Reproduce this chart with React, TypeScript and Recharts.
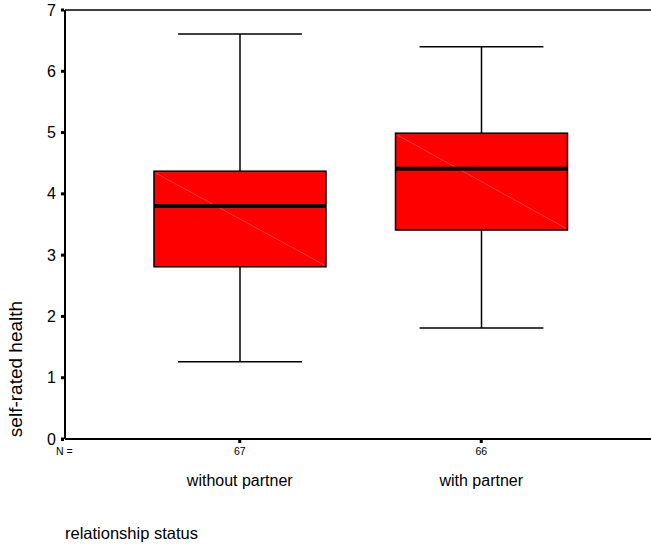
import React from 'react';
import { ComposedChart, Bar, XAxis, YAxis, ReferenceLine } from 'recharts';

const categories = ['without partner', 'with partner'];
const counts = [67, 66];
const mins = [1.26, 1.81];
const q1s = [2.81, 3.41];
const medians = [3.8, 4.41];
const q3s = [4.37, 4.99];
const maxs = [6.61, 6.4];
const yTicks = [0, 1, 2, 3, 4, 5, 6, 7];

const data = categories.map((c, i) => ({
  name: c,
  n: counts[i],
  min: mins[i],
  q1: q1s[i],
  median: medians[i],
  q3: q3s[i],
  max: maxs[i],
  range: [mins[i], maxs[i]],
}));

const FONT = "'Liberation Sans', Arial, sans-serif";

const BoxShape = (props: any) => {
  const { x, y, width, height, payload } = props;
  const p = payload;
  const span = p.max - p.min;
  const py = (v: number) => y + ((p.max - v) / span) * height;
  const cx = x + width / 2;
  const capHalf = width * 0.36;
  const yq3 = py(p.q3);
  const yq1 = py(p.q1);
  const ymed = py(p.median);
  const ymax = py(p.max);
  const ymin = py(p.min);
  return (
    <g>
      <line x1={cx} x2={cx} y1={ymax} y2={yq3} stroke="#000" strokeWidth={1.5} />
      <line x1={cx} x2={cx} y1={yq1} y2={ymin} stroke="#000" strokeWidth={1.5} />
      <line x1={cx - capHalf} x2={cx + capHalf} y1={ymax} y2={ymax} stroke="#000" strokeWidth={1.5} />
      <line x1={cx - capHalf} x2={cx + capHalf} y1={ymin} y2={ymin} stroke="#000" strokeWidth={1.5} />
      <rect x={x} y={yq3} width={width} height={yq1 - yq3} fill="#ff0000" stroke="#000" strokeWidth={1.5} />
      <line x1={x + 2} y1={yq3 + 2} x2={x + width - 2} y2={yq1 - 2} stroke="#ff6a6a" strokeWidth={0.6} />
      <line x1={x} x2={x + width} y1={ymed} y2={ymed} stroke="#000" strokeWidth={4} />
    </g>
  );
};

const YTick = (props: any) => {
  const { x, y, payload } = props;
  return (
    <g>
      <rect x={x + 4} y={y - 1.5} width={3} height={3} fill="#000" />
      <text x={x - 1} y={y} dy={5.5} textAnchor="end" fontSize={16} fontFamily={FONT} fill="#000">
        {payload.value}
      </text>
    </g>
  );
};

const XTick = (props: any) => {
  const { x, y, payload, index } = props;
  const n = counts[index];
  return (
    <g>
      <rect x={x - 1.5} y={y - 7} width={3} height={3} fill="#000" />
      <text x={x} y={y + 8} textAnchor="middle" fontSize={10.5} fontFamily={FONT} fill="#000">
        {n}
      </text>
      <text x={x} y={y + 39} textAnchor="middle" fontSize={16} fontFamily={FONT} fill="#000">
        {payload.value}
      </text>
    </g>
  );
};

const XLabel = (props: any) => {
  const vb = props.viewBox || {};
  const x = vb.x ?? 65;
  const y = vb.y ?? 439;
  return (
    <g>
      <rect x={x - 4} y={y - 1} width={3} height={3} fill="#000" />
      <text x={x - 9} y={y + 16} fontSize={10.5} fontFamily={FONT} fill="#000">N =</text>
      <text x={x} y={y + 100} fontSize={16.5} fontFamily={FONT} fill="#000">relationship status</text>
    </g>
  );
};

const YLabel = () => {
  return (
    <text
      x={0}
      y={0}
      transform="translate(22, 369) rotate(-90)"
      textAnchor="middle"
      fontSize={19}
      fontFamily={FONT}
      fill="#000"
    >
      self-rated health
    </text>
  );
};

export default function App() {
  return (
    <div style={{ position: 'absolute', left: 0, top: 0, width: 651, height: 544, background: '#fff' }}>
      <ComposedChart
        width={651}
        height={544}
        data={data}
        margin={{ top: 10, right: 0, left: 0, bottom: 0 }}
      >
        <XAxis
          dataKey="name"
          height={105}
          padding={{ left: 54, right: 49 }}
          axisLine={{ stroke: '#000', strokeWidth: 2 }}
          tickLine={false}
          tick={<XTick />}
          interval={0}
          label={<XLabel />}
        />
        <YAxis
          width={65}
          domain={[0, 7]}
          ticks={yTicks}
          interval={0}
          allowDataOverflow
          axisLine={{ stroke: '#000', strokeWidth: 2 }}
          tickLine={false}
          tick={<YTick />}
          label={<YLabel />}
        />
        <ReferenceLine y={7} stroke="#000" strokeWidth={1.5} />
        <Bar dataKey="range" barSize={172} shape={<BoxShape />} isAnimationActive={false} />
      </ComposedChart>
    </div>
  );
}
